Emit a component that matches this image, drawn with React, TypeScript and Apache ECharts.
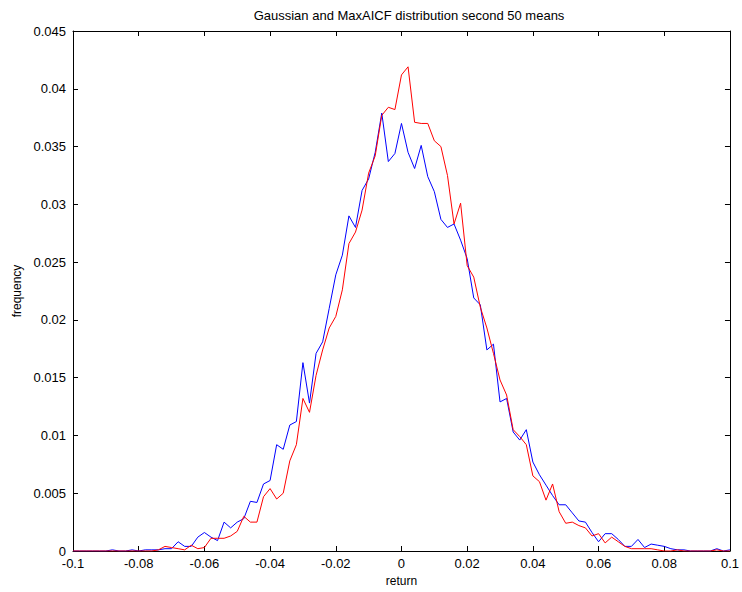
import React, { useEffect, useRef } from "react";
import * as echarts from "echarts";

const chartTitle = "Gaussian and MaxAICF distribution second 50 means";
const xAxisName = "return";
const yAxisName = "frequency";

const binStart = -0.1;
const binStep = 0.002;

const blueFreq = [
  0, 0, 0, 0, 0, 0, 0.0001, 0, 0, 0.0001,
  0, 0.0001, 0.0001, 0.0001, 0.0002, 0.0002, 0.0008, 0.0004, 0.0004, 0.0012,
  0.0016, 0.0012, 0.0009, 0.0025, 0.002, 0.0025, 0.0028, 0.0043, 0.0042, 0.0058,
  0.0061, 0.0092, 0.0088, 0.0109, 0.0112, 0.0163, 0.0128, 0.0171, 0.0181, 0.021,
  0.0239, 0.0256, 0.029, 0.028, 0.0312, 0.0322, 0.0345, 0.0379, 0.0337, 0.0344,
  0.037, 0.0345, 0.0331, 0.0351, 0.0324, 0.0311, 0.0287, 0.028, 0.0283, 0.0269,
  0.0253, 0.0219, 0.0213, 0.0174, 0.0179, 0.0129, 0.0132, 0.0103, 0.0096, 0.0105,
  0.0077, 0.0066, 0.0057, 0.0048, 0.004, 0.004, 0.0033, 0.0026, 0.0025, 0.0016,
  0.0008, 0.0015, 0.0015, 0.001, 0.0004, 0.0004, 0.001, 0.0003, 0.0006, 0.0005,
  0.0004, 0.0002, 0.0001, 0.0001, 0, 0, 0, 0, 0.0002, 0,
  0.0001,
];

const redFreq = [
  0, 0, 0, 0, 0, 0, 0, 0, 0, 0,
  0, 0, 0, 0.0001, 0.0004, 0.0003, 0.0002, 0.0001, 0.0005, 0.0002,
  0.0003, 0.0011, 0.0011, 0.0011, 0.0013, 0.0017, 0.003, 0.0025, 0.0025, 0.0047,
  0.0054, 0.0045, 0.005, 0.0078, 0.0092, 0.0132, 0.012, 0.0152, 0.0174, 0.0193,
  0.0203, 0.0226, 0.0266, 0.0276, 0.0295, 0.0327, 0.0342, 0.0377, 0.0384, 0.0382,
  0.0412, 0.0419, 0.0371, 0.037, 0.037, 0.0355, 0.035, 0.0325, 0.0283, 0.0301,
  0.0247, 0.0237, 0.0211, 0.0193, 0.0171, 0.0148, 0.0135, 0.0105, 0.0099, 0.0092,
  0.0065, 0.006, 0.0044, 0.0058, 0.0034, 0.0024, 0.0025, 0.0022, 0.002, 0.0013,
  0.0015, 0.0007, 0.0012, 0.0008, 0.0004, 0.0002, 0.0002, 0.0002, 0.0002, 0.0001,
  0, 0, 0.0001, 0, 0, 0, 0, 0, 0.0001, 0,
  0,
];

const fmt = (v: number) => {
  const r = parseFloat(v.toFixed(4));
  return r === 0 ? "0" : String(r);
};

export default function App() {
  const ref = useRef<HTMLDivElement>(null);
  useEffect(() => {
    if (!ref.current) return;
    const chart = echarts.init(ref.current, null, { renderer: "svg" });
    const toPairs = (arr: number[]) =>
      arr.map((y, i) => [parseFloat((binStart + binStep * i).toFixed(4)), y]);
    const font = "'Liberation Sans', Arial, sans-serif";
    const axisBase = {
      type: "value" as const,
      axisLine: { show: true, onZero: false, lineStyle: { color: "#000", width: 1 } },
      axisTick: { show: true, inside: true, length: 5, lineStyle: { color: "#000" } },
      splitLine: { show: false },
    };
    chart.setOption({
      animation: false,
      backgroundColor: "#fff",
      textStyle: { fontFamily: font },
      title: {
        text: chartTitle,
        left: 404,
        textAlign: "center",
        top: 4,
        textStyle: { fontSize: 13, fontWeight: "normal", color: "#000", fontFamily: font },
      },
      grid: { left: 73, right: 7, top: 31, bottom: 41, containLabel: false },
      xAxis: [
        {
          ...axisBase,
          position: "bottom",
          min: -0.1,
          max: 0.1,
          interval: 0.02,
          name: xAxisName,
          nameLocation: "middle",
          nameGap: 22,
          nameTextStyle: { fontSize: 12, color: "#000", fontFamily: font },
          axisLabel: { show: true, margin: 6, fontSize: 13, color: "#000", formatter: fmt, fontFamily: font },
        },
        {
          ...axisBase,
          position: "top",
          min: -0.1,
          max: 0.1,
          interval: 0.02,
          axisLabel: { show: false },
        },
      ],
      yAxis: [
        {
          ...axisBase,
          position: "left",
          min: 0,
          max: 0.045,
          interval: 0.005,
          name: yAxisName,
          nameLocation: "middle",
          nameGap: 48,
          nameTextStyle: { fontSize: 12, color: "#000", fontFamily: font },
          axisLabel: { show: true, margin: 7, fontSize: 13, color: "#000", formatter: fmt, fontFamily: font },
        },
        {
          ...axisBase,
          position: "right",
          min: 0,
          max: 0.045,
          interval: 0.005,
          axisLabel: { show: false },
        },
      ],
      series: [
        {
          name: "Gaussian",
          type: "line",
          data: toPairs(blueFreq),
          showSymbol: false,
          symbol: "none",
          lineStyle: { color: "#0000ff", width: 1 },
          itemStyle: { color: "#0000ff" },
        },
        {
          name: "MaxAICF",
          type: "line",
          data: toPairs(redFreq),
          showSymbol: false,
          symbol: "none",
          lineStyle: { color: "#ff0000", width: 1 },
          itemStyle: { color: "#ff0000" },
        },
      ],
    });
    return () => chart.dispose();
  }, []);
  return <div ref={ref} style={{ width: 742, height: 592, position: "absolute", left: 0, top: 0 }} />;
}
